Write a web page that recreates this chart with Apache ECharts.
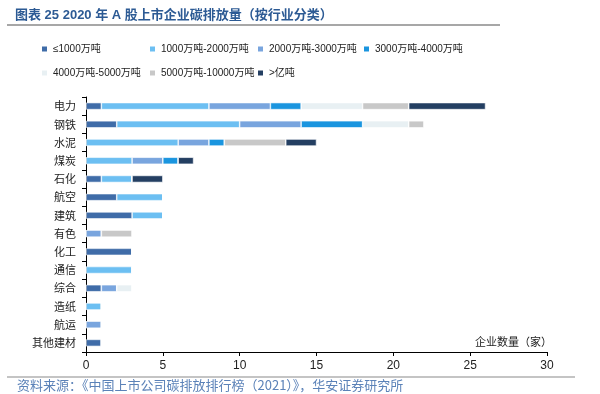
<!DOCTYPE html>
<html><head><meta charset="utf-8">
<script src="https://cdn.jsdelivr.net/npm/echarts@6/dist/echarts.min.js"></script>
<style>html,body{margin:0;padding:0;background:#fff}#c{width:600px;height:394px}</style>
</head><body><div id="c"></div>
<script>
const categories = ['电力','钢铁','水泥','煤炭','石化','航空','建筑','有色','化工','通信','综合','造纸','航运','其他建材'];
const seriesNames = ['≤1000万吨','1000万吨-2000万吨','2000万吨-3000万吨','3000万吨-4000万吨','4000万吨-5000万吨','5000万吨-10000万吨','>亿吨'];
const s1 = [1,2,0,0,1,2,3,0,3,0,1,0,0,1];
const s2 = [7,8,6,3,2,3,2,0,0,3,0,1,0,0];
const s3 = [4,4,2,2,0,0,0,1,0,0,1,0,1,0];
const s4 = [2,4,1,1,0,0,0,0,0,0,0,0,0,0];
const s5 = [4,3,0,0,0,0,0,0,0,0,1,0,0,0];
const s6 = [3,1,4,0,0,0,0,2,0,0,0,0,0,0];
const s7 = [5,0,2,1,2,0,0,0,0,0,0,0,0,0];
const xTicks = [0,5,10,15,20,25,30];
const colors = ['#3f6ca8','#6cbff2','#79a5de','#1a95df','#e8f0f3','#c8c8c8','#243f62'];
const allData = [s1,s2,s3,s4,s5,s6,s7];

const font = '"Liberation Sans", Arial, "Noto Sans CJK SC", sans-serif';
const chart = echarts.init(document.getElementById('c'));
const legendPos = [[35,39],[143,39],[251,39],[357,39],[35,63],[143,63],[251,63]];
const legends = seriesNames.map((n,i)=>({
  data:[n], left:legendPos[i][0], top:legendPos[i][1], itemWidth:7, itemHeight:7, itemGap:4,
  icon:'rect', textStyle:{fontSize:10, color:'#222', fontFamily:font}, selectedMode:false
}));
chart.setOption({
  animation:false,
  textStyle:{fontFamily:font},
  legend: legends,
  grid:{left:86, right:53, top:97, bottom:42},
  xAxis:{type:'value', min:0, max:30, interval:5,
    axisLine:{show:true, lineStyle:{color:'#000'}},
    axisTick:{show:true, length:4, lineStyle:{color:'#000'}},
    axisLabel:{fontSize:12, color:'#222', margin:8, formatter:v=>xTicks.includes(v)?String(v):''},
    splitLine:{show:false}},
  yAxis:{type:'category', data:categories, inverse:true,
    axisLine:{show:true, lineStyle:{color:'#000'}},
    axisTick:{show:true, length:4, lineStyle:{color:'#000'}},
    axisLabel:{fontSize:11, color:'#222', margin:10, fontFamily:'"Noto Sans CJK SC", serif'}},
  series: seriesNames.map((n,i)=>({
    name:n, type:'bar', stack:'a', barWidth:7, data:allData[i],
    itemStyle:{color:colors[i], borderColor:'#fff', borderWidth:0.6}
  })),
  graphic:[
    {type:'text', left:15, top:9, style:{text:'图表 25 2020 年 A 股上市企业碳排放量（按行业分类）', fontSize:13, fontWeight:'bold', fill:'#2c5a94', fontFamily:'"Liberation Sans", "Noto Sans CJK SC", sans-serif'}},
    {type:'line', shape:{x1:7,y1:25,x2:500,y2:25}, style:{stroke:'#8a8a8a', lineWidth:1.5}},
    {type:'text', left:475, top:336, style:{text:'企业数量（家）', fontSize:11, fill:'#222', fontFamily:'"Noto Sans CJK SC", serif'}},
    {type:'line', shape:{x1:7,y1:377,x2:575,y2:377}, style:{stroke:'#8a8a8a', lineWidth:1.2}},
    {type:'text', left:17, top:379, style:{text:'资料来源：《中国上市公司碳排放排行榜（2021）》，华安证券研究所', fontSize:13, fill:'#5b82b8', fontFamily:'"Noto Sans CJK SC", serif'}}
  ]
});
</script></body></html>
